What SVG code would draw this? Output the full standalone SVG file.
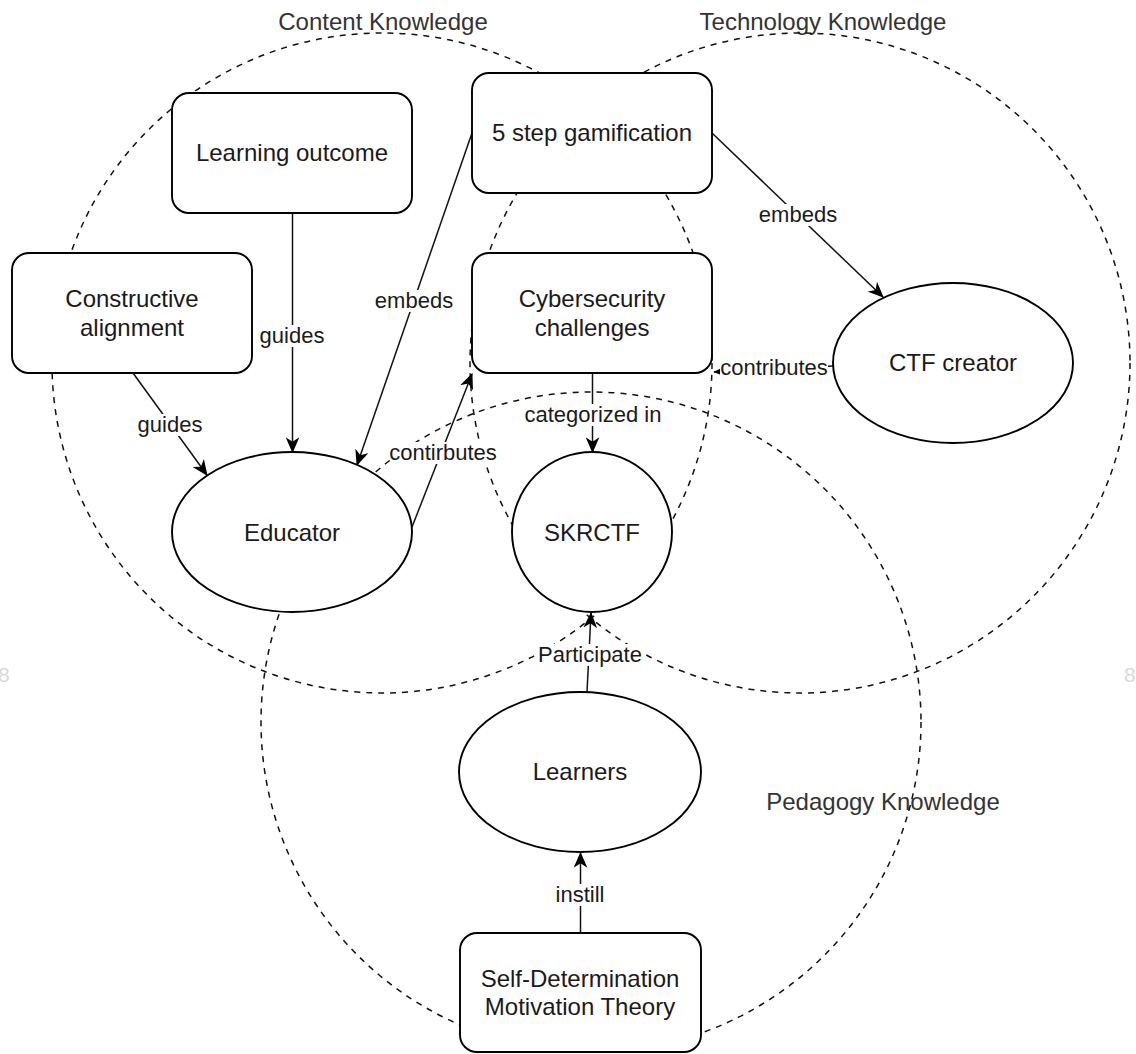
<svg xmlns="http://www.w3.org/2000/svg" width="1136" height="1054" viewBox="0 0 1136 1054">
<style>
  text { font-family: "Liberation Sans", Arial, sans-serif; fill: #1a1a1a; }
  .node { font-size: 24px; text-anchor: middle; }
  .zone { font-size: 24px; text-anchor: middle; fill: #333; }
  .lbl { font-size: 22px; text-anchor: middle; }
  .lblbg { fill: #ffffff; stroke: none; }
  .shape { fill: #ffffff; stroke: #000; stroke-width: 1.9; }
  .circ { fill: none; stroke: #111; stroke-width: 1.5; stroke-dasharray: 6 6; }
  .edge { fill: none; stroke: #111; stroke-width: 1.5; marker-end: url(#arr); }
  .edge-s { fill: none; stroke: #111; stroke-width: 1.5; marker-end: url(#arrs); }
  .ghost { font-size: 21px; fill: #d9d9d9; }
</style>
<defs>
  <marker id="arr" viewBox="0 0 14 12" refX="13" refY="6" markerWidth="16" markerHeight="14" markerUnits="userSpaceOnUse" orient="auto">
    <path d="M0,0 L14,6 L0,12 L4,6 Z" fill="#000"/>
  </marker>
  <marker id="arrs" viewBox="0 0 14 12" refX="13" refY="6" markerWidth="9" markerHeight="8" markerUnits="userSpaceOnUse" orient="auto">
    <path d="M0,0 L14,6 L0,12 L4,6 Z" fill="#000"/>
  </marker>
</defs>

<g id="ghost-marks">
  <text class="ghost" x="-2" y="682">8</text>
  <text class="ghost" x="1124" y="682">8</text>
</g>

<g id="zones">
  <text class="zone" x="383" y="30">Content Knowledge</text>
  <text class="zone" x="823" y="30">Technology Knowledge</text>
  <text class="zone" x="883" y="810">Pedagogy Knowledge</text>
  <circle id="content-knowledge" class="circ" cx="382" cy="363" r="330"/>
  <circle id="technology-knowledge" class="circ" cx="800" cy="363" r="330"/>
  <circle id="pedagogy-knowledge" class="circ" cx="591" cy="722" r="330"/>
</g>

<g id="connectors">
  <path class="edge" d="M292.5,212 L292.5,452"/>
  <path class="edge" d="M133,373 L207,475"/>
  <path class="edge" d="M472,133 L357,465"/>
  <path class="edge" d="M712,133 L883,297"/>
  <path class="edge" d="M412,527 L472,374"/>
  <path class="edge" d="M592.5,373 L592.5,452"/>
  <path class="edge-s" d="M833,366 L714,372"/>
  <path class="edge" d="M587,692 L591,613"/>
  <path class="edge" d="M580.5,933 L580.5,853"/>

  <rect class="lblbg" x="259" y="325" width="67" height="22"/>
  <text class="lbl" x="292" y="343">guides</text>
  <rect class="lblbg" x="137" y="414" width="67" height="22"/>
  <text class="lbl" x="170" y="432">guides</text>
  <rect class="lblbg" x="377" y="290" width="74" height="22"/>
  <text class="lbl" x="414" y="308">embeds</text>
  <rect class="lblbg" x="761" y="204" width="74" height="22"/>
  <text class="lbl" x="798" y="222">embeds</text>
  <rect class="lblbg" x="390" y="442" width="106" height="22"/>
  <text class="lbl" x="443" y="460">contirbutes</text>
  <rect class="lblbg" x="523" y="404" width="140" height="22"/>
  <text class="lbl" x="593" y="422">categorized in</text>
  <rect class="lblbg" x="720" y="357" width="108" height="22"/>
  <text class="lbl" x="774" y="375">contributes</text>
  <rect class="lblbg" x="537" y="644" width="106" height="22"/>
  <text class="lbl" x="590" y="662">Participate</text>
  <rect class="lblbg" x="555" y="884" width="51" height="22"/>
  <text class="lbl" x="580" y="902">instill</text>
</g>

<g id="learning-outcome">
  <rect class="shape" x="172" y="93" width="240" height="120" rx="17"/>
  <text class="node" x="292" y="161">Learning outcome</text>
</g>
<g id="constructive-alignment">
  <rect class="shape" x="12" y="253" width="240" height="120" rx="17"/>
  <text class="node" x="132" y="307">Constructive</text>
  <text class="node" x="132" y="336">alignment</text>
</g>
<g id="five-step-gamification">
  <rect class="shape" x="472" y="73" width="240" height="120" rx="17"/>
  <text class="node" x="592" y="141">5 step gamification</text>
</g>
<g id="cybersecurity-challenges">
  <rect class="shape" x="472" y="253" width="240" height="120" rx="17"/>
  <text class="node" x="592" y="307">Cybersecurity</text>
  <text class="node" x="592" y="336">challenges</text>
</g>
<g id="ctf-creator">
  <ellipse class="shape" cx="953" cy="363" rx="120" ry="80"/>
  <text class="node" x="953" y="371">CTF creator</text>
</g>
<g id="educator">
  <ellipse class="shape" cx="292" cy="532" rx="120" ry="80"/>
  <text class="node" x="292" y="541">Educator</text>
</g>
<g id="skrctf">
  <ellipse class="shape" cx="592" cy="532" rx="80" ry="80"/>
  <text class="node" x="592" y="541">SKRCTF</text>
</g>
<g id="learners">
  <ellipse class="shape" cx="580" cy="772" rx="121" ry="80"/>
  <text class="node" x="580" y="780">Learners</text>
</g>
<g id="self-determination">
  <rect class="shape" x="460" y="933" width="241" height="119" rx="17"/>
  <text class="node" x="580" y="987">Self-Determination</text>
  <text class="node" x="580" y="1015">Motivation Theory</text>
</g>
</svg>
